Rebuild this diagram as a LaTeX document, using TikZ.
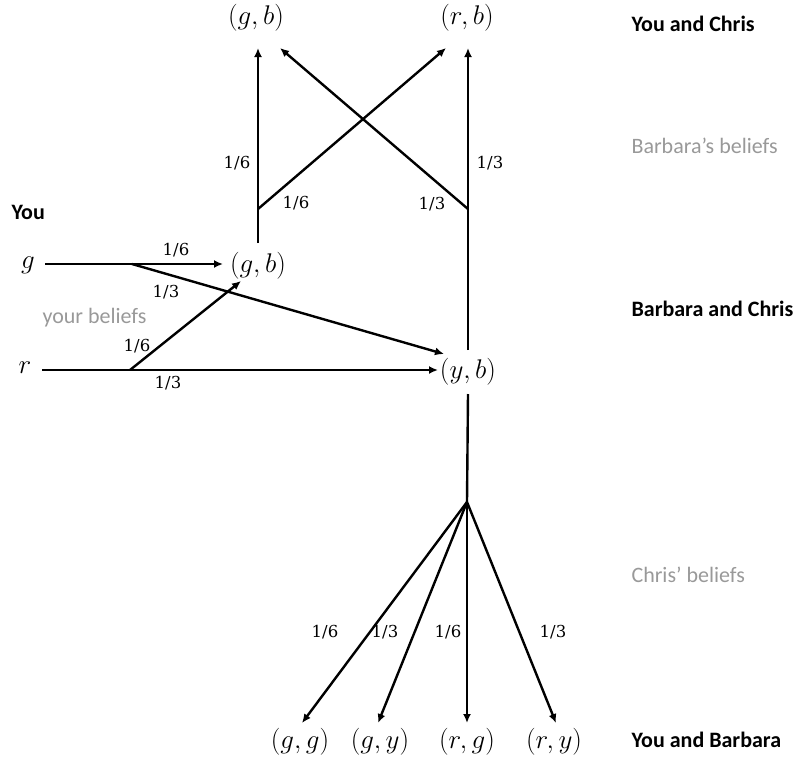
\RequirePackage{fix-cm}
\documentclass[tikz,border=0pt]{standalone}
\usepackage{fontspec}
\setmainfont{Carlito}
\newfontfamily\fracfam{DejaVu Serif}
\usetikzlibrary{arrows.meta}
\begin{document}
\begin{tikzpicture}[x=1pt,y=-1pt,
  conn/.style={line width=2.4pt,-{Latex[length=9pt,width=8pt]}},
  plain/.style={line width=2.4pt},
  st/.style={font=\fontsize{27}{29}\selectfont},
  pr/.style={font=\fracfam\fontsize{16.5}{19}\selectfont},
  hdr/.style={font=\fontsize{22}{24}\selectfont\bfseries},
  gry/.style={font=\fontsize{22}{24}\selectfont,text=black!40}]
\useasboundingbox (0,0) rectangle (798,758);
% state nodes
\node[st] (gbT) at (256,18) {$(g,b)$};
\node[st] (rbT) at (467,18) {$(r,b)$};
\node[st] (gbM) at (258,266) {$(g,b)$};
\node[st] (yb) at (468,372) {$(y,b)$};
\node[st] (g) at (28,265) {$g$};
\node[st] (r) at (25,368) {$r$};
\node[st] (gg) at (300,742) {$(g,g)$};
\node[st] (gy) at (380,742) {$(g,y)$};
\node[st] (rg) at (467,742) {$(r,g)$};
\node[st] (ry) at (554,742) {$(r,y)$};
% headers
\node[hdr,anchor=west] (h1) at (628,24) {You and Chris};
\node[gry,anchor=west] (h2) at (628,146) {Barbara’s beliefs};
\node[hdr,anchor=west] (h3) at (8,212) {You};
\node[gry,anchor=west] (h4) at (39,318) {your beliefs};
\node[hdr,anchor=west] (h5) at (628,309) {Barbara and Chris};
\node[gry,anchor=west] (h6) at (628,575) {Chris’ beliefs};
\node[hdr,anchor=west] (h7) at (628,740) {You and Barbara};
% coordinates
\coordinate (bl) at (258,209);
\coordinate (br) at (468,209);
\coordinate (lbot) at (258,243);
\coordinate (tl) at (258,48);
\coordinate (tlx) at (280,48);
\coordinate (trx) at (446,48);
\coordinate (tr) at (468,48);
\coordinate (gs) at (45,264);
\coordinate (gj) at (132,264);
\coordinate (gt) at (223,264);
\coordinate (gy1) at (444,354);
\coordinate (rs) at (42,370);
\coordinate (rj) at (130,370);
\coordinate (rt) at (438,370);
\coordinate (rgt) at (241,281);
\coordinate (ybtop) at (468,350);
\coordinate (ybbot) at (468,394);
\coordinate (bj) at (467,502);
\coordinate (t1) at (302,723);
\coordinate (t2) at (378,723);
\coordinate (t3) at (467,723);
\coordinate (t4) at (556,723);
% top connectors
\draw[conn] (lbot) -- (tl);
\draw[conn] (bl) -- (trx);
\draw[conn] (ybtop) -- (tr);
\draw[conn] (br) -- (tlx);
% left connectors
\draw[conn] (gs) -- (gt);
\draw[conn] (gj) -- (gy1);
\draw[conn] (rs) -- (rt);
\draw[conn] (rj) -- (rgt);
% bottom
\draw[plain] (ybbot) -- (bj);
\draw[conn] (bj) -- (t1);
\draw[conn] (bj) -- (t2);
\draw[conn] (bj) -- (t3);
\draw[conn] (bj) -- (t4);
% probabilities
\node[pr] (p1) at (237,163) {1/6};
\node[pr] (p2) at (296,203) {1/6};
\node[pr] (p3) at (432,204) {1/3};
\node[pr] (p4) at (490,163) {1/3};
\node[pr] (p5) at (176,250) {1/6};
\node[pr] (p6) at (166,292) {1/3};
\node[pr] (p7) at (137,346) {1/6};
\node[pr] (p8) at (168,383) {1/3};
\node[pr] (p9) at (325,632) {1/6};
\node[pr] (p10) at (385,632) {1/3};
\node[pr] (p11) at (448,632) {1/6};
\node[pr] (p12) at (553,632) {1/3};
\end{tikzpicture}
\end{document}
